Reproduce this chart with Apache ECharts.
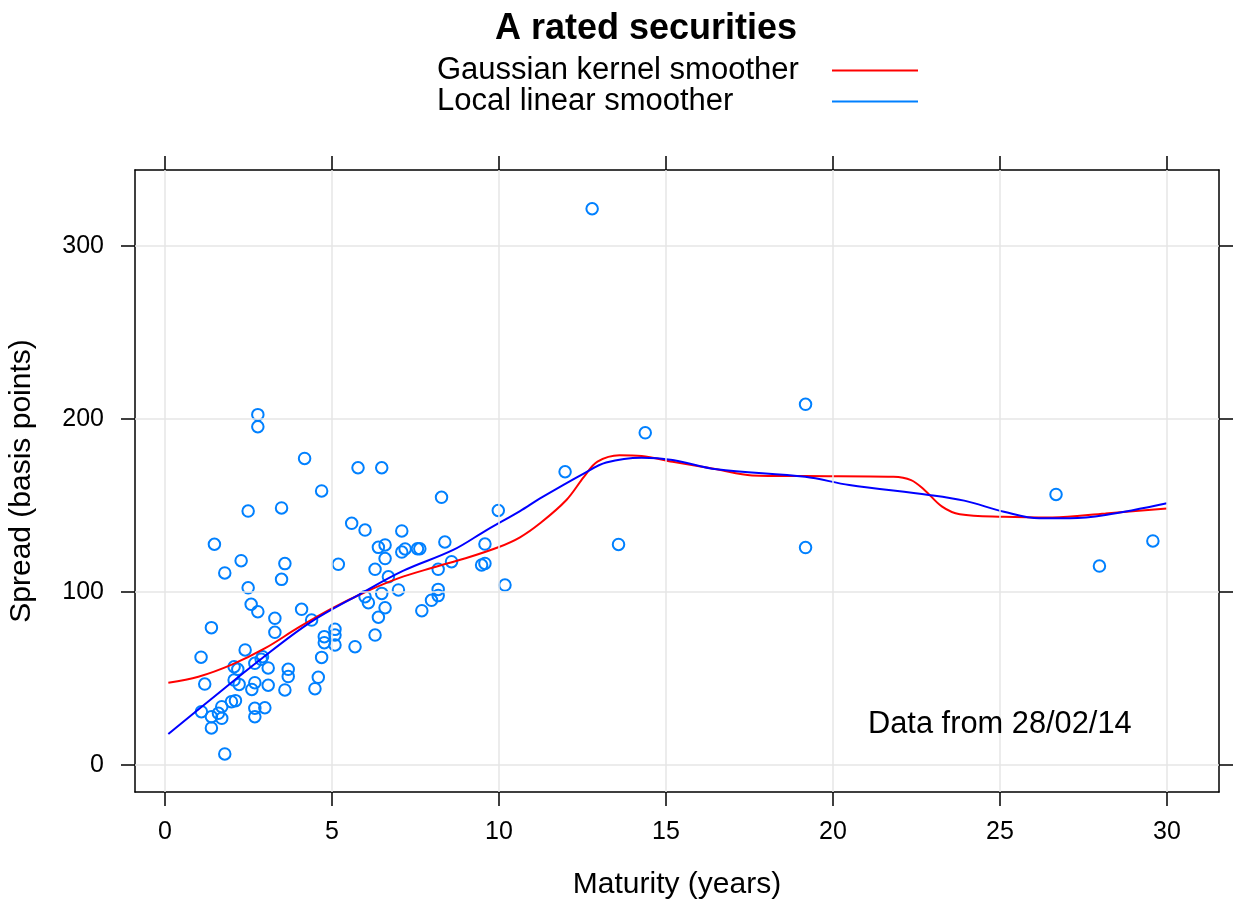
<!DOCTYPE html>
<html>
<head>
<meta charset="utf-8">
<title>A rated securities</title>
<script src="https://cdn.jsdelivr.net/npm/echarts@6/dist/echarts.min.js"></script>
<style>
  html, body { margin: 0; padding: 0; background: #ffffff; }
  #chart { width: 1233px; height: 901px; }
</style>
</head>
<body>
<div id="chart"></div>
<script>
// Observed securities: maturity (years) and spread (basis points)
const maturity = [
  1.08, 1.19, 1.39, 1.09, 1.39, 1.39, 1.60, 1.70, 1.70, 1.79,
  1.99, 2.11, 2.07, 2.18, 2.07, 2.22, 2.40, 2.49, 2.58, 2.78,
  2.60, 2.69, 2.69, 2.69, 2.69, 2.88, 2.92, 2.99, 3.09, 3.09,
  3.29, 3.29, 3.59, 3.69, 3.69, 4.09, 4.39, 4.49, 4.59, 4.69,
  4.77, 4.77, 5.09, 5.09, 5.09, 5.69, 1.48, 1.79, 2.28, 2.49,
  2.78, 2.78, 3.49, 3.59, 3.49, 4.18, 4.69, 5.19, 5.59, 5.78,
  6.49, 5.99, 6.39, 6.59, 6.59, 7.09, 7.09, 7.19, 7.56, 7.63,
  8.28, 8.38, 8.58, 9.48, 9.58, 9.58, 9.98, 10.18, 6.29, 6.69,
  8.18, 6.99, 6.49, 8.18, 8.18, 7.98, 7.69, 5.99, 6.09, 6.59,
  6.39, 6.29, 11.98, 12.79, 13.58, 14.38, 19.18, 19.18, 26.68, 27.98,
  29.58
];
const spread = [
  62.3, 46.8, 79.4, 30.8, 27.9, 21.4, 29.9, 33.7, 27.0, 6.4,
  36.6, 37.2, 56.8, 55.3, 49.1, 46.6, 66.5, 102.4, 92.9, 88.6,
  43.7, 47.6, 58.8, 32.8, 27.9, 61.1, 62.6, 33.1, 56.1, 46.1,
  84.8, 76.7, 43.4, 55.3, 51.1, 90.0, 83.8, 44.1, 50.7, 62.2,
  74.2, 70.7, 78.4, 75.1, 69.4, 68.4, 127.6, 111.0, 118.1, 146.8,
  202.5, 195.5, 148.6, 116.4, 107.3, 177.2, 158.4, 116.0, 139.7, 171.8,
  171.8, 135.8, 125.8, 127.2, 119.3, 135.3, 123.1, 124.9, 125.0, 125.0,
  154.7, 128.9, 117.5, 115.6, 116.5, 127.7, 147.1, 104.0, 113.1, 108.8,
  113.1, 101.2, 99.2, 101.5, 97.9, 95.2, 89.2, 97.3, 93.8, 90.9,
  85.4, 75.1, 169.5, 321.5, 127.5, 192.0, 208.5, 125.7, 156.4, 115.0,
  129.5
];

// Gaussian kernel smoother
const kernelX = [0.1, 1, 2, 3, 4, 5, 6, 7, 8, 9, 10, 10.63, 11.23, 12.02, 12.55, 12.95,
  13.61, 14.27, 15.2, 16.52, 17.58, 19.17, 21.81, 22.34, 22.74, 23.27, 23.8, 25.12,
  26.57, 28.16, 30];
const kernelY = [47.5, 51, 58, 67.5, 79.5, 90.5, 100, 108, 114, 119.5, 126, 131.6, 139.7, 153.2, 166.7, 175.3,
  179, 178.6, 175.3, 170.9, 167.4, 167, 166.6, 164.7, 159, 149.3, 144.9, 143.5,
  143.1, 145.4, 148.3];

// Local linear smoother
const localX = [0.1, 1.35, 2.84, 4.34, 5.84, 7.14, 8.63, 9.63, 10.63, 11.23, 12.55, 13.21,
  14.27, 15.2, 16.52, 19.17, 20.49, 22.87, 23.93, 25.12, 26.18, 27.1, 28.16, 30];
const localY = [17.9, 37.6, 60.7, 82.3, 98.8, 112.3, 124.3, 135.8, 146.8, 154.1, 168.6, 174.8,
  177.6, 176.3, 170.9, 166.6, 161.8, 156.1, 152.8, 146.4, 142.6, 142.6, 144.5, 151.3];

// Axis ticks
const xTicks = [0, 5, 10, 15, 20, 25, 30];
const yTicks = [0, 100, 200, 300];

const FONT = '"Liberation Sans", Arial, Helvetica, sans-serif';
const pairs = (xs, ys) => xs.map((x, i) => [x, ys[i]]);

const chart = echarts.init(document.getElementById('chart'), null, { renderer: 'canvas' });

const axisLine = { show: true, onZero: false, lineStyle: { color: '#000000', width: 1.5 } };
const tickStyle = { color: '#000000', width: 1.5 };

const gridLines = xTicks.map(v => ({ xAxis: v })).concat(yTicks.map(v => ({ yAxis: v })));

chart.setOption({
  animation: false,
  backgroundColor: '#ffffff',
  textStyle: { fontFamily: FONT },
  title: {
    text: 'A rated securities',
    left: 490,
    top: 6,
    textStyle: { fontFamily: FONT, fontSize: 36, fontWeight: 'bold', color: '#000000' }
  },
  legend: {
    orient: 'vertical',
    left: 432,
    top: 50,
    align: 'right',
    icon: 'rect',
    itemWidth: 86,
    itemHeight: 2,
    itemGap: 0,
    selectedMode: false,
    formatter: name => '{t|' + name + '}',
    textStyle: {
      fontFamily: FONT, fontSize: 31, lineHeight: 30, color: '#000000',
      rich: { t: { fontFamily: FONT, fontSize: 31, lineHeight: 30, color: '#000000', width: 390, align: 'left' } }
    },
    data: [
      { name: 'Gaussian kernel smoother', itemStyle: { color: '#ff0000' } },
      { name: 'Local linear smoother', itemStyle: { color: '#0080ff' } }
    ]
  },
  grid: { left: 135, right: 14, top: 170, bottom: 109, containLabel: false, outerBoundsMode: 'none' },
  xAxis: [
    {
      type: 'value', position: 'bottom', min: -0.898, max: 31.56,
      name: 'Maturity (years)', nameLocation: 'middle', nameGap: 78,
      nameTextStyle: { fontFamily: FONT, fontSize: 30, color: '#000000' },
      axisLine: axisLine,
      axisTick: { show: true, inside: false, length: 14, lineStyle: tickStyle, customValues: xTicks },
      axisLabel: { show: true, margin: 28, fontFamily: FONT, fontSize: 25, color: '#000000', customValues: xTicks },
      splitLine: { show: false }
    },
    {
      type: 'value', position: 'top', min: -0.898, max: 31.56,
      axisLine: axisLine,
      axisTick: { show: true, inside: false, length: 14, lineStyle: tickStyle, customValues: xTicks },
      axisLabel: { show: false },
      splitLine: { show: false }
    }
  ],
  yAxis: [
    {
      type: 'value', position: 'left', min: -15.6, max: 343.9,
      name: 'Spread (basis points)', nameLocation: 'middle', nameGap: 98, nameRotate: 90,
      nameTextStyle: { fontFamily: FONT, fontSize: 30, color: '#000000' },
      axisLine: axisLine,
      axisTick: { show: true, inside: false, length: 14, lineStyle: tickStyle, customValues: yTicks },
      axisLabel: { show: true, margin: 31, fontFamily: FONT, fontSize: 25, color: '#000000', customValues: yTicks },
      splitLine: { show: false }
    },
    {
      type: 'value', position: 'right', min: -15.6, max: 343.9,
      axisLine: axisLine,
      axisTick: { show: true, inside: false, length: 14, lineStyle: tickStyle, customValues: yTicks },
      axisLabel: { show: false },
      splitLine: { show: false }
    }
  ],
  graphic: [
    {
      type: 'text',
      left: 868,
      top: 709,
      z: 100,
      zlevel: 0,
      style: { text: 'Data from 28/02/14', fontFamily: FONT, fontSize: 30.8, fill: '#000000' }
    }
  ],
  series: [
    {
      // reference grid
      type: 'line', name: 'grid', data: [], z: 0, silent: true,
      markLine: {
        silent: true, symbol: 'none', animation: false,
        label: { show: false },
        lineStyle: { color: '#e6e6e6', width: 1.5, type: 'solid' },
        data: gridLines
      }
    },
    {
      type: 'scatter', name: 'Securities', z: 2,
      data: pairs(maturity, spread),
      symbol: 'circle', symbolSize: 11.5,
      itemStyle: { color: 'rgba(0,0,0,0)', borderColor: '#0080ff', borderWidth: 2, opacity: 1 }
    },
    {
      type: 'line', name: 'Gaussian kernel smoother', z: 3,
      data: pairs(kernelX, kernelY),
      smooth: 0.35, symbol: 'none', showSymbol: false,
      lineStyle: { color: '#ff0000', width: 2 },
      itemStyle: { color: '#ff0000' }
    },
    {
      type: 'line', name: 'Local linear smoother', z: 4,
      data: pairs(localX, localY),
      smooth: 0.35, symbol: 'none', showSymbol: false,
      lineStyle: { color: '#0000ff', width: 2 },
      itemStyle: { color: '#0000ff' }
    }
  ]
});
</script>
</body>
</html>
